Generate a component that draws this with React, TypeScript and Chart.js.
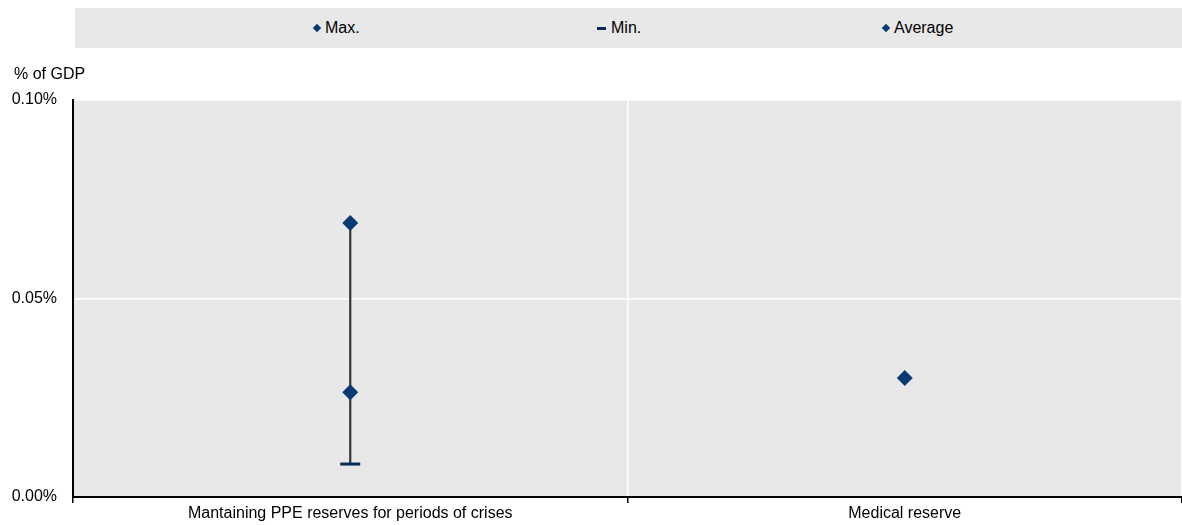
import React, { useEffect, useRef } from "react";
import { Chart, registerables } from "chart.js";

Chart.register(...registerables);

const categories = ["Mantaining PPE reserves for periods of crises", "Medical reserve"];
const maxValues: (number | null)[] = [0.069, null];
const minValues: (number | null)[] = [0.0083, null];
const avgValues: (number | null)[] = [0.0264, 0.03];
const yTicks = [0, 0.05, 0.1];

const NAVY = "#0b3a73";
const FONT = "'Liberation Sans Narrow', 'Arial Narrow', 'Liberation Sans', Arial, sans-serif";

export default function App() {
  const ref = useRef<HTMLCanvasElement | null>(null);

  useEffect(() => {
    if (!ref.current) return;
    const whisker = categories.map((_, i) =>
      maxValues[i] != null && minValues[i] != null ? [minValues[i], maxValues[i]] : null
    );
    const chart = new Chart(ref.current, {
      type: "bar",
      data: {
        labels: categories,
        datasets: [
          {
            type: "line",
            label: "Max.",
            data: maxValues,
            showLine: false,
            pointStyle: "rectRot",
            pointRadius: 8,
            backgroundColor: NAVY,
            borderColor: NAVY,
            borderWidth: 0,
            order: 0,
          } as any,
          {
            type: "line",
            label: "Min.",
            data: minValues,
            showLine: false,
            pointStyle: "line",
            pointRadius: 10,
            backgroundColor: "#0b2b57",
            borderColor: "#0b2b57",
            pointBorderWidth: 3,
            order: 0,
          } as any,
          {
            type: "line",
            label: "Average",
            data: avgValues,
            showLine: false,
            pointStyle: "rectRot",
            pointRadius: 8,
            backgroundColor: NAVY,
            borderColor: NAVY,
            borderWidth: 0,
            order: 0,
          } as any,
          {
            type: "bar",
            label: "range",
            data: whisker as any,
            backgroundColor: "#333333",
            borderWidth: 0,
            barThickness: 1.5,
            grouped: false,
            order: 5,
          } as any,
        ],
      },
      options: {
        animation: false,
        responsive: false,
        maintainAspectRatio: false,
        layout: { autoPadding: false, padding: { top: 100, left: 0, right: -3, bottom: 0 } },
        plugins: {
          legend: { display: false },
          tooltip: { enabled: false },
        },
        scales: {
          x: {
            type: "category",
            offset: true,
            grid: {
              offset: true,
              color: "#ffffff",
              lineWidth: 1.5,
              drawTicks: true,
              tickLength: 6,
              tickColor: "#000000",
              tickWidth: 1.5,
            },
            border: { display: true, color: "#000000", width: 2 },
            ticks: {
              color: "#000000",
              font: { family: FONT, size: 16 },
              padding: 1,
              maxRotation: 0,
              autoSkip: false,
            },
            afterFit: (s: any) => {
              s.height = 28;
              s.paddingLeft = 0;
              s.paddingRight = 0;
            },
          },
          y: {
            min: 0,
            max: 0.1,
            afterBuildTicks: (s: any) => {
              s.ticks = yTicks.map((v) => ({ value: v }));
            },
            grid: { color: "#ffffff", lineWidth: 1.5, drawTicks: false },
            border: { display: true, color: "#000000", width: 2 },
            ticks: {
              color: "#000000",
              font: { family: FONT, size: 16 },
              padding: 16,
              callback: (v: any) => Number(v).toFixed(2) + "%",
            },
            afterFit: (s: any) => {
              s.width = 73;
            },
          },
        },
      },
      plugins: [
        {
          id: "bgArea",
          beforeDraw(c: any) {
            const { ctx, chartArea } = c;
            ctx.save();
            ctx.fillStyle = "#e8e8e8";
            ctx.fillRect(chartArea.left, chartArea.top, chartArea.right - chartArea.left, chartArea.bottom - chartArea.top);
            ctx.restore();
          },
        },
      ],
    });
    return () => chart.destroy();
  }, []);

  const legendItems = [
    { label: "Max.", left: 238, kind: "diamond" },
    { label: "Min.", left: 522, kind: "dash" },
    { label: "Average", left: 807, kind: "diamond" },
  ];

  return (
    <div
      style={{
        position: "fixed",
        left: 0,
        top: 0,
        width: 1182,
        height: 525,
        fontFamily: FONT,
        overflow: "hidden",
        background: "#ffffff",
      }}
    >
      <canvas ref={ref} width={1182} height={525} style={{ position: "absolute", left: 0, top: 0, display: "block" }} />
      <div
        style={{
          position: "absolute",
          left: 75,
          top: 8,
          width: 1107,
          height: 40,
          background: "#e8e8e8",
        }}
      >
        {legendItems.map((it) => (
          <div
            key={it.label}
            style={{
              position: "absolute",
              left: it.left,
              top: 0,
              height: 40,
              display: "flex",
              alignItems: "center",
              fontSize: 16,
              color: "#000",
            }}
          >
            {it.kind === "diamond" ? (
              <span
                style={{
                  display: "inline-block",
                  width: 6,
                  height: 6,
                  background: NAVY,
                  transform: "rotate(45deg)",
                  marginLeft: 1,
                  marginRight: 5,
                }}
              />
            ) : (
              <span
                style={{
                  display: "inline-block",
                  width: 9,
                  height: 3,
                  background: "#0b2b57",
                  marginRight: 5,
                }}
              />
            )}
            <span>{it.label}</span>
          </div>
        ))}
      </div>
      <div style={{ position: "absolute", left: 14, top: 65, fontSize: 16, color: "#000" }}>% of GDP</div>
    </div>
  );
}
